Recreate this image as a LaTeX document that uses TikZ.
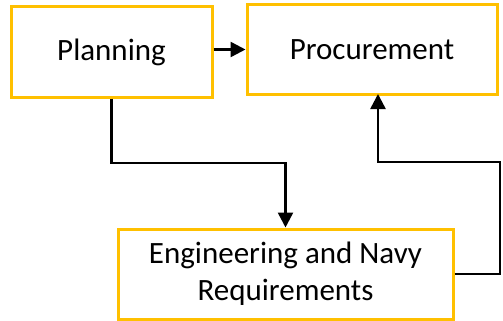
\documentclass[tikz,border=0pt]{standalone}
\usepackage{fontspec}
\setmainfont{Carlito}
\usetikzlibrary{arrows.meta,calc}
\definecolor{boxgold}{HTML}{FFC000}
\tikzset{
  stage/.style={draw=boxgold, line width=3pt, fill=white, align=center,
    inner sep=0pt, font=\fontsize{31}{37}\selectfont},
  flow/.style={draw=black, line width=2.5pt,
    -{Triangle[length=15pt,width=15pt]}}
}
\begin{document}
\begin{tikzpicture}[x=1pt,y=-1pt]
  \useasboundingbox (0,0) rectangle (503,321);
  \node[stage, minimum width=201pt, minimum height=90pt] (plan) at (111.5,52) {Planning};
  \node[stage, minimum width=250pt, minimum height=89pt] (proc) at (372,49.5) {Procurement};
  \node[stage, minimum width=335pt, minimum height=90pt] (eng) at (285.5,274)
    {Engineering and Navy\\Requirements};
  \coordinate (loopR) at (500,162);
  \coordinate (procIn) at (378,94);
  \draw[flow] (plan.east |- proc.west) -- (proc.west);
  \draw[flow] (plan.south) |- ($(plan.south)!0.5!(eng.north)$) -| (eng.north);
  \draw[flow] (eng.east) -| (loopR) -| (procIn);
\end{tikzpicture}
\end{document}
